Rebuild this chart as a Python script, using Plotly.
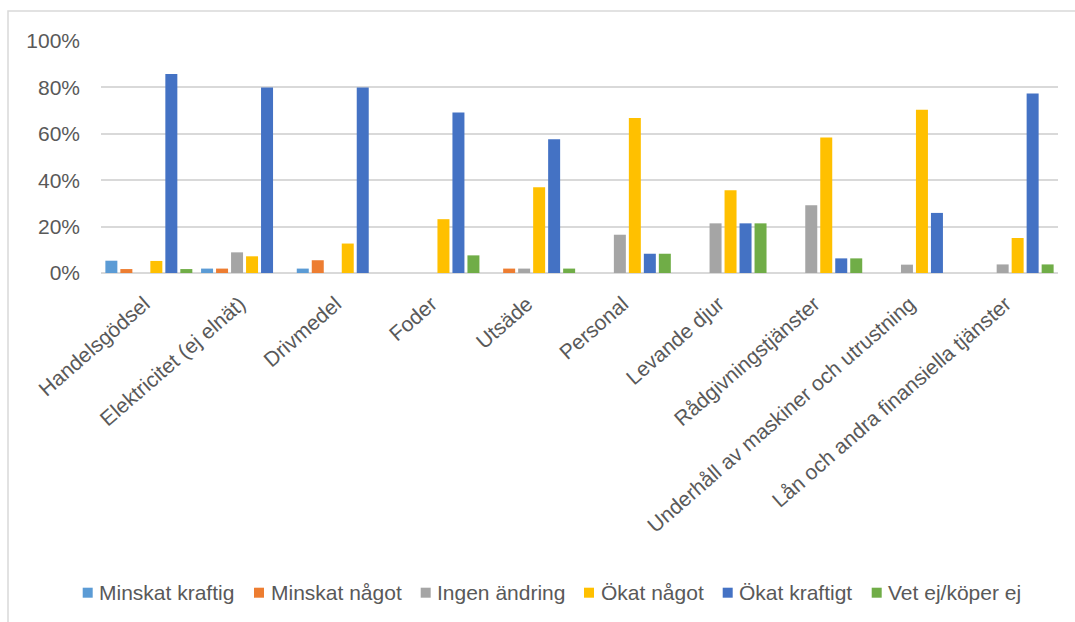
import plotly.graph_objects as go

categories = [
    "Handelsgödsel",
    "Elektricitet (ej elnät)",
    "Drivmedel",
    "Foder",
    "Utsäde",
    "Personal",
    "Levande djur",
    "Rådgivningstjänster",
    "Underhåll av maskiner och utrustning",
    "Lån och andra finansiella tjänster",
]

# Share of respondents (%) per answer
minskat_kraftig = [5.3, 1.9, 1.9, 0, 0, 0, 0, 0, 0, 0]
minskat_nagot = [1.7, 1.9, 5.5, 0, 1.9, 0, 0, 0, 0, 0]
ingen_andring = [0, 8.9, 0, 0, 1.9, 16.5, 21.4, 29.2, 3.6, 3.7]
okat_nagot = [5.2, 7.2, 12.7, 23.2, 37.0, 66.8, 35.7, 58.4, 70.4, 15.1]
okat_kraftigt = [85.8, 80.0, 80.0, 69.2, 57.6, 8.3, 21.4, 6.3, 25.9, 77.4]
vet_ej = [1.7, 0, 0, 7.6, 1.9, 8.3, 21.4, 6.3, 0, 3.7]

series_names = ["Minskat kraftig", "Minskat något", "Ingen ändring",
                "Ökat något", "Ökat kraftigt", "Vet ej/köper ej"]
series_values = [minskat_kraftig, minskat_nagot, ingen_andring,
                 okat_nagot, okat_kraftigt, vet_ej]
colors = ["#5B9BD5", "#ED7D31", "#A5A5A5", "#FFC000", "#4472C4", "#70AD47"]

y_ticks = [0, 20, 40, 60, 80, 100]
y_tick_text = ["0%", "20%", "40%", "60%", "80%", "100%"]

FONT = "Liberation Sans, Arial, sans-serif"
TEXT = "#595959"
GRID = "#D9D9D9"
FS = 21

fig = go.Figure()
for name, vals, col in zip(series_names, series_values, colors):
    fig.add_trace(go.Bar(
        x=categories, y=vals, name=name, showlegend=False,
        marker=dict(color=col, line=dict(width=0)),
    ))

W, H = 1075, 622
L, R, T, B = 101, 17, 41, 349
pw, ph = W - L - R, H - T - B

def px_x(x):
    return (x - L) / pw

def px_y(y):
    return (H - B - y) / ph

# Legend row: key squares followed by their labels
legend_left = [82.7, 254, 420.7, 584, 722.7, 871.7]
legend_cy = 592.7
key = 10

shapes = [
    # chart area border (left and top edges visible)
    dict(type="rect", xref="paper", yref="paper",
         x0=px_x(8), x1=px_x(1090), y0=px_y(640), y1=px_y(11),
         line=dict(color=GRID, width=1.5), fillcolor="rgba(0,0,0,0)",
         layer="below"),
]
annotations = []
for name, col, lx in zip(series_names, colors, legend_left):
    shapes.append(dict(
        type="rect", xref="paper", yref="paper",
        x0=px_x(lx), x1=px_x(lx + key),
        y0=px_y(legend_cy + key / 2), y1=px_y(legend_cy - key / 2),
        line=dict(width=0), fillcolor=col,
    ))
    annotations.append(dict(
        text=name, xref="paper", yref="paper",
        x=px_x(lx + key + 4.5), y=px_y(legend_cy),
        xanchor="left", yanchor="middle", showarrow=False,
        font=dict(family=FONT, size=FS, color=TEXT),
    ))

fig.update_layout(
    width=W, height=H,
    margin=dict(l=L, r=R, t=T, b=B, autoexpand=False),
    paper_bgcolor="white", plot_bgcolor="white",
    barmode="group", bargap=0.06, bargroupgap=0.2,
    font=dict(family=FONT, size=FS, color=TEXT),
    showlegend=False,
    xaxis=dict(
        tickangle=-41, showgrid=False, showline=False, ticks="",
        tickvals=categories,
        ticktext=[c + "\u00a0" for c in categories],
        tickfont=dict(family=FONT, size=FS, color=TEXT),
        ticklabelstandoff=10,
    ),
    yaxis=dict(
        range=[0, 100], tickvals=y_ticks, ticktext=y_tick_text,
        showgrid=True, gridcolor=GRID, gridwidth=1.5,
        zeroline=True, zerolinecolor=GRID, zerolinewidth=2,
        showline=False, ticks="",
        tickfont=dict(family=FONT, size=FS, color=TEXT),
        ticklabelstandoff=20,
    ),
    shapes=shapes,
    annotations=annotations,
)

fig.write_html("out.html")
